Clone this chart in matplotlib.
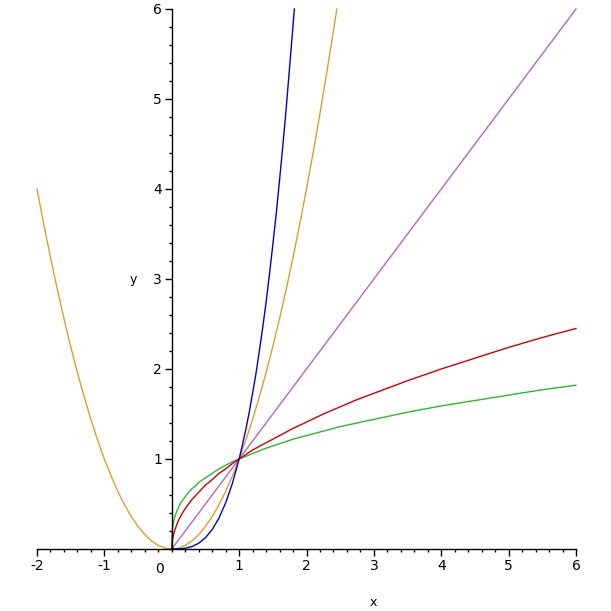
import matplotlib
matplotlib.use("Agg")
import matplotlib.pyplot as plt
from matplotlib.ticker import MultipleLocator

sq_x = [-2.0, -1.9, -1.8, -1.7, -1.6, -1.5, -1.4, -1.3, -1.2, -1.1, -1.0,
        -0.9, -0.8, -0.7, -0.6, -0.5, -0.4, -0.3, -0.2, -0.1, 0.0,
        0.1, 0.2, 0.3, 0.4, 0.5, 0.6, 0.7, 0.8, 0.9, 1.0,
        1.1, 1.2, 1.3, 1.4, 1.5, 1.6, 1.7, 1.8, 1.9, 2.0,
        2.1, 2.2, 2.3, 2.4, 2.45]
sq_y = [4.0, 3.61, 3.24, 2.89, 2.56, 2.25, 1.96, 1.69, 1.44, 1.21, 1.0,
        0.81, 0.64, 0.49, 0.36, 0.25, 0.16, 0.09, 0.04, 0.01, 0.0,
        0.01, 0.04, 0.09, 0.16, 0.25, 0.36, 0.49, 0.64, 0.81, 1.0,
        1.21, 1.44, 1.69, 1.96, 2.25, 2.56, 2.89, 3.24, 3.61, 4.0,
        4.41, 4.84, 5.29, 5.76, 6.0]

cu_x = [0.0, 0.1, 0.2, 0.3, 0.4, 0.5, 0.6, 0.7, 0.8, 0.9, 1.0, 1.05, 1.1, 1.15,
        1.2, 1.25, 1.3, 1.35, 1.4, 1.45, 1.5, 1.55, 1.6, 1.65, 1.7, 1.76, 1.82]
cu_y = [0.0, 0.001, 0.008, 0.027, 0.064, 0.125, 0.216, 0.343, 0.512, 0.729, 1.0,
        1.16, 1.33, 1.52, 1.73, 1.95, 2.2, 2.46, 2.74, 3.05, 3.38, 3.72, 4.1,
        4.49, 4.91, 5.45, 6.0]

li_x = [0.0, 6.0]
li_y = [0.0, 6.0]

sr_x = [0.0, 0.005, 0.01, 0.02, 0.03, 0.05, 0.07, 0.1, 0.13, 0.16, 0.2, 0.25, 0.3,
        0.35, 0.4, 0.5, 0.6, 0.7, 0.8, 0.9, 1.0, 1.2, 1.4, 1.6, 1.8, 2.0, 2.25,
        2.5, 2.75, 3.0, 3.5, 4.0, 4.5, 5.0, 5.5, 6.0]
sr_y = [0.0, 0.07, 0.1, 0.14, 0.17, 0.22, 0.26, 0.32, 0.36, 0.4, 0.45, 0.5, 0.55,
        0.59, 0.63, 0.71, 0.77, 0.84, 0.89, 0.95, 1.0, 1.1, 1.18, 1.26, 1.34, 1.41,
        1.5, 1.58, 1.66, 1.73, 1.87, 2.0, 2.12, 2.24, 2.35, 2.45]

cr_x = [0.0, 0.001, 0.003, 0.006, 0.01, 0.02, 0.03, 0.045, 0.06, 0.08, 0.1, 0.13,
        0.16, 0.2, 0.25, 0.3, 0.35, 0.4, 0.5, 0.6, 0.7, 0.8, 0.9, 1.0, 1.2, 1.4,
        1.6, 1.8, 2.0, 2.5, 3.0, 3.5, 4.0, 4.5, 5.0, 5.5, 6.0]
cr_y = [0.0, 0.1, 0.14, 0.18, 0.22, 0.27, 0.31, 0.36, 0.39, 0.43, 0.46, 0.51,
        0.54, 0.58, 0.63, 0.67, 0.7, 0.74, 0.79, 0.84, 0.89, 0.93, 0.97, 1.0, 1.06, 1.12,
        1.17, 1.22, 1.26, 1.36, 1.44, 1.52, 1.59, 1.65, 1.71, 1.77, 1.82]

x_ticks = [-2, -1, 1, 2, 3, 4, 5, 6]
x_tick_labels = ["-2", "-1", "1", "2", "3", "4", "5", "6"]
y_ticks = [1, 2, 3, 4, 5, 6]
y_tick_labels = ["1", "2", "3", "4", "5", "6"]

W = H = 611
fig = plt.figure(figsize=(W / 100, H / 100), dpi=100)
ax = fig.add_axes([37 / W, (H - 549) / H, (576 - 37) / W, (549 - 9) / H])
ax.set_xlim(-2, 6)
ax.set_ylim(0, 6)

lw = 1.0
ax.plot(sq_x, sq_y, color="#D9A12B", lw=lw, clip_on=False)
ax.plot(li_x, li_y, color="#B366C8", lw=lw, clip_on=False)
ax.plot(cr_x, cr_y, color="#2DB82D", lw=lw, clip_on=False)
ax.plot(sr_x, sr_y, color="#D00000", lw=lw, clip_on=False)
ax.plot(cu_x, cu_y, color="#0000CC", lw=lw, clip_on=False)

for s in ["top", "right"]:
    ax.spines[s].set_visible(False)
ax.spines["left"].set_position(("data", 0))
ax.spines["bottom"].set_position(("data", 0))
for s in ["left", "bottom"]:
    ax.spines[s].set_linewidth(1.0)

ax.set_xticks(x_ticks)
ax.set_xticklabels(x_tick_labels)
ax.set_yticks(y_ticks)
ax.set_yticklabels(y_tick_labels)
ax.xaxis.set_minor_locator(MultipleLocator(0.2))
ax.yaxis.set_minor_locator(MultipleLocator(0.2))
ax.tick_params(axis="both", which="major", length=5, width=1, labelsize=10, pad=2)
ax.tick_params(axis="both", which="minor", length=2.5, width=1)
ax.tick_params(axis="x", direction="out")
ax.tick_params(axis="y", direction="out")

ax.text(-0.18, -0.14, "0", ha="center", va="top", fontsize=10)
fig.text(373 / W, 1 - 603 / H, "x", ha="center", va="center", fontsize=9)
fig.text(133 / W, 1 - 280 / H, "y", ha="center", va="center", fontsize=9)

fig.savefig("out.png", dpi=100)
